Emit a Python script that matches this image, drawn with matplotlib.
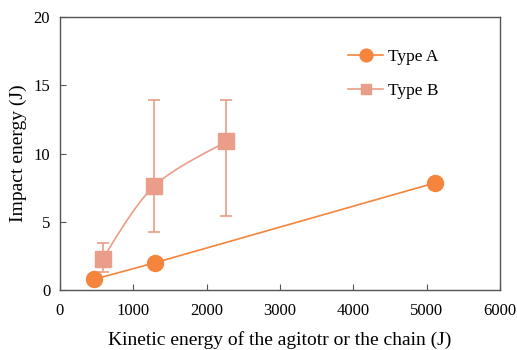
import numpy as np
import matplotlib
matplotlib.use('Agg')
import matplotlib.pyplot as plt
from matplotlib.path import Path
from matplotlib.patches import PathPatch

plt.rcParams['font.family'] = ['Liberation Serif', 'DejaVu Serif']

# Type A
a_x = [470, 1290, 5110]
a_y = [0.8, 2.0, 7.85]

# Type B with error bars
b_x = [580, 1280, 2270]
b_y = [2.3, 7.6, 10.9]
b_lo = [1.3, 4.25, 5.45]
b_hi = [3.45, 13.95, 13.95]

col_a = '#F5843C'
col_b = '#EA9D88'

fig = plt.figure(figsize=(5.17, 3.5), dpi=100)
ax = fig.add_axes([0.116, 0.171, 0.851, 0.78])

ax.plot(a_x, a_y, color=col_a, lw=1.2, marker='o', ms=11.5, mec=col_a, label='Type A', zorder=3)

# smooth line through Type B points (Catmull-Rom as cubic bezier)
pts = np.column_stack([b_x, b_y]).astype(float)
ext = np.vstack([pts[0], pts, pts[-1]])
verts = [tuple(pts[0])]
codes = [Path.MOVETO]
for i in range(1, len(ext) - 2):
    p0, p1, p2, p3 = ext[i - 1], ext[i], ext[i + 1], ext[i + 2]
    c1 = p1 + (p2 - p0) / 6
    c2 = p2 - (p3 - p1) / 6
    verts += [tuple(c1), tuple(c2), tuple(p2)]
    codes += [Path.CURVE4] * 3
ax.add_patch(PathPatch(Path(verts, codes), fc='none', ec=col_b, lw=1.2, zorder=2))

yerr = [np.array(b_y) - np.array(b_lo), np.array(b_hi) - np.array(b_y)]
ax.errorbar(b_x, b_y, yerr=yerr, fmt='none', ecolor=col_b, elinewidth=1.2, capsize=4, capthick=1.2, zorder=2)
ax.plot(b_x, b_y, ls='none', marker='s', ms=11.5, color=col_b, zorder=3)
ax.plot([], [], color=col_b, lw=1.2, marker='s', ms=9, label='Type B')

ax.set_xlim(0, 6000)
ax.set_ylim(0, 20)
ax.set_xticks(range(0, 6001, 1000))
ax.set_yticks(range(0, 21, 5))
ax.tick_params(direction='in', length=4, color='#555555', labelsize=12)
ax.tick_params(axis='x', top=False, pad=9)
ax.tick_params(axis='y', right=False, pad=7)
for s in ax.spines.values():
    s.set_color('#555555')
    s.set_linewidth(1.0)

ax.set_xlabel('Kinetic energy of the agitotr or the chain (J)', fontsize=14, labelpad=9)
ax.set_ylabel('Impact energy (J)', fontsize=14, labelpad=5)

leg = ax.legend(loc='upper left', bbox_to_anchor=(0.62, 0.94), frameon=False, fontsize=12.5,
                handlelength=2.0, handletextpad=0.3, labelspacing=1.0, markerscale=0.8)

fig.savefig('out.png', dpi=100)
